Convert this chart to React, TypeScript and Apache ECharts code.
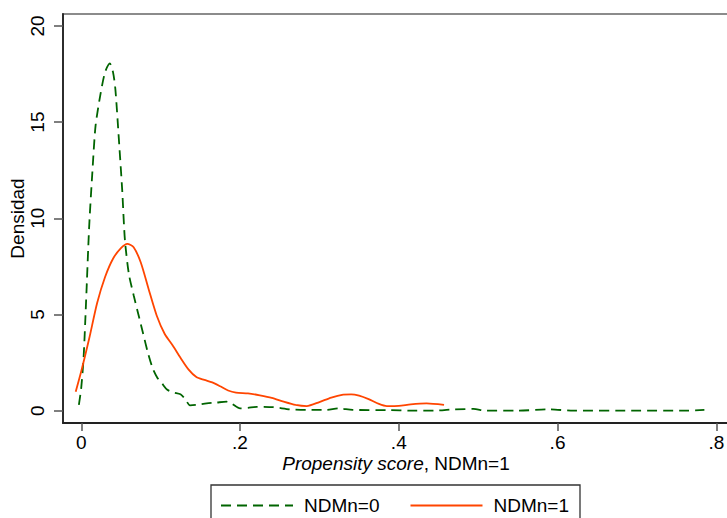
import React, { useEffect, useRef } from "react";
import * as echarts from "echarts";

const seriesNames = ["NDMn=0", "NDMn=1"];

const xUntreated = [-0.003, 0.0, 0.003, 0.006, 0.01, 0.014, 0.018, 0.024, 0.03, 0.036, 0.04, 0.043, 0.0474, 0.0516, 0.055, 0.06, 0.066, 0.072, 0.078, 0.084, 0.09, 0.096, 0.102, 0.108, 0.116, 0.125, 0.131, 0.137, 0.145, 0.158, 0.17, 0.183, 0.19, 0.2, 0.21, 0.221, 0.242, 0.263, 0.284, 0.309, 0.324, 0.342, 0.385, 0.418, 0.45, 0.469, 0.494, 0.51, 0.55, 0.59, 0.62, 0.7, 0.76, 0.785];
const yUntreated = [0.3, 1.2, 2.8, 5.6, 9.6, 12.4, 14.8, 16.4, 17.6, 18.05, 17.6, 16.7, 14.1, 11.45, 8.87, 7.1, 6.0, 5.0, 4.0, 3.0, 2.2, 1.7, 1.4, 1.1, 0.95, 0.85, 0.6, 0.28, 0.3, 0.38, 0.42, 0.47, 0.35, 0.12, 0.15, 0.2, 0.18, 0.07, 0.04, 0.04, 0.12, 0.04, 0.03, 0.0, 0.01, 0.07, 0.09, 0.0, 0.0, 0.07, 0.0, 0.0, 0.0, 0.04];

const xTreated = [-0.007, 0.0, 0.01, 0.02, 0.03, 0.04, 0.05, 0.058, 0.066, 0.075, 0.085, 0.095, 0.105, 0.115, 0.125, 0.135, 0.145, 0.155, 0.165, 0.175, 0.185, 0.195, 0.21, 0.225, 0.24, 0.255, 0.27, 0.284, 0.3, 0.315, 0.33, 0.34, 0.35, 0.362, 0.375, 0.385, 0.4, 0.415, 0.435, 0.457];
const yTreated = [0.99, 2.05, 3.75, 5.6, 6.95, 7.9, 8.45, 8.67, 8.5, 7.7, 6.3, 4.95, 4.0, 3.4, 2.75, 2.15, 1.75, 1.6, 1.47, 1.27, 1.05, 0.94, 0.9, 0.8, 0.67, 0.47, 0.3, 0.24, 0.45, 0.68, 0.83, 0.85, 0.78, 0.6, 0.35, 0.24, 0.25, 0.33, 0.38, 0.3];

const xTickValues = [0, 0.2, 0.4, 0.6, 0.8];
const xTickLabels = ["0", ".2", ".4", ".6", ".8"];
const yTickValues = [0, 5, 10, 15, 20];
const yTickLabels = ["0", "5", "10", "15", "20"];

const FONT = "'Liberation Sans', Arial, Helvetica, sans-serif";

export default function App() {
  const ref = useRef<HTMLDivElement>(null);
  useEffect(() => {
    if (!ref.current) return;
    const chart = echarts.init(ref.current, undefined, { renderer: "svg" });
    const pairs = (xs: number[], ys: number[]) => xs.map((x, i) => [x, ys[i]]);
    chart.setOption({
      animation: false,
      backgroundColor: "#ffffff",
      textStyle: { fontFamily: FONT },
      grid: {
        left: 63,
        right: -2,
        top: 14,
        bottom: 95,
        containLabel: false,
        outerBoundsMode: "none",
        show: true,
        borderColor: "#666666",
        borderWidth: 1.5,
      },
      xAxis: {
        type: "value",
        min: -0.023,
        max: 0.816,
        name: "{i|Propensity score}, NDMn=1",
        nameLocation: "middle",
        nameGap: 30,
        nameMoveOverlap: false,
        nameTextStyle: {
          fontSize: 19,
          lineHeight: 20,
          color: "#000",
          fontFamily: FONT,
          rich: { i: { fontStyle: "italic", fontSize: 19, lineHeight: 20, fontFamily: FONT, color: "#000" } },
        },
        axisLine: { show: true, onZero: false, lineStyle: { color: "#222", width: 1.8 } },
        axisTick: { show: true, length: 8, customValues: xTickValues, lineStyle: { color: "#555", width: 1.5 } },
        axisLabel: {
          customValues: xTickValues,
          margin: 9,
          fontSize: 19,
          lineHeight: 20,
          color: "#000",
          fontFamily: FONT,
          formatter: (v: number) => {
            const i = xTickValues.findIndex((t) => Math.abs(t - v) < 1e-9);
            return i >= 0 ? xTickLabels[i] : "";
          },
        },
        splitLine: { show: false },
      },
      yAxis: {
        type: "value",
        min: -0.64,
        max: 20.62,
        name: "Densidad",
        nameLocation: "middle",
        nameGap: 36,
        nameRotate: 90,
        nameMoveOverlap: false,
        nameTextStyle: { fontSize: 19, color: "#000", fontFamily: FONT },
        axisLine: { show: true, onZero: false, lineStyle: { color: "#222", width: 1.8 } },
        axisTick: { show: true, length: 9, customValues: yTickValues, lineStyle: { color: "#555", width: 1.5 } },
        axisLabel: {
          customValues: yTickValues,
          rotate: 90,
          margin: 16,
          fontSize: 19,
          color: "#000",
          fontFamily: FONT,
          formatter: (v: number) => {
            const i = yTickValues.findIndex((t) => Math.abs(t - v) < 1e-9);
            return i >= 0 ? yTickLabels[i] : "";
          },
        },
        splitLine: { show: false },
      },
      legend: {
        left: 220,
        top: 496,
        itemWidth: 72,
        itemHeight: 14,
        itemGap: 30,
        padding: 0,
        itemStyle: { opacity: 0 },
        textStyle: { fontSize: 19, color: "#000", fontFamily: FONT, padding: [0, 0, 0, 6] },
        data: seriesNames,
      },
      graphic: [
        {
          type: "rect",
          shape: { x: 211, y: 485, width: 369, height: 45 },
          style: { fill: "none", stroke: "#333", lineWidth: 1.3 },
          silent: true,
        },
      ],
      series: [
        {
          name: seriesNames[0],
          type: "line",
          data: pairs(xUntreated, yUntreated),
          smooth: 0.25,
          symbol: "none",
          lineStyle: { color: "#006400", width: 1.8, type: [10, 6] },
          itemStyle: { color: "#006400" },
        },
        {
          name: seriesNames[1],
          type: "line",
          data: pairs(xTreated, yTreated),
          smooth: 0.25,
          symbol: "none",
          lineStyle: { color: "#FF4500", width: 1.8, type: "solid" },
          itemStyle: { color: "#FF4500" },
        },
      ],
    });
    return () => chart.dispose();
  }, []);
  return (
    <div
      ref={ref}
      style={{ position: "fixed", left: 0, top: 0, width: 727, height: 518 }}
    />
  );
}
